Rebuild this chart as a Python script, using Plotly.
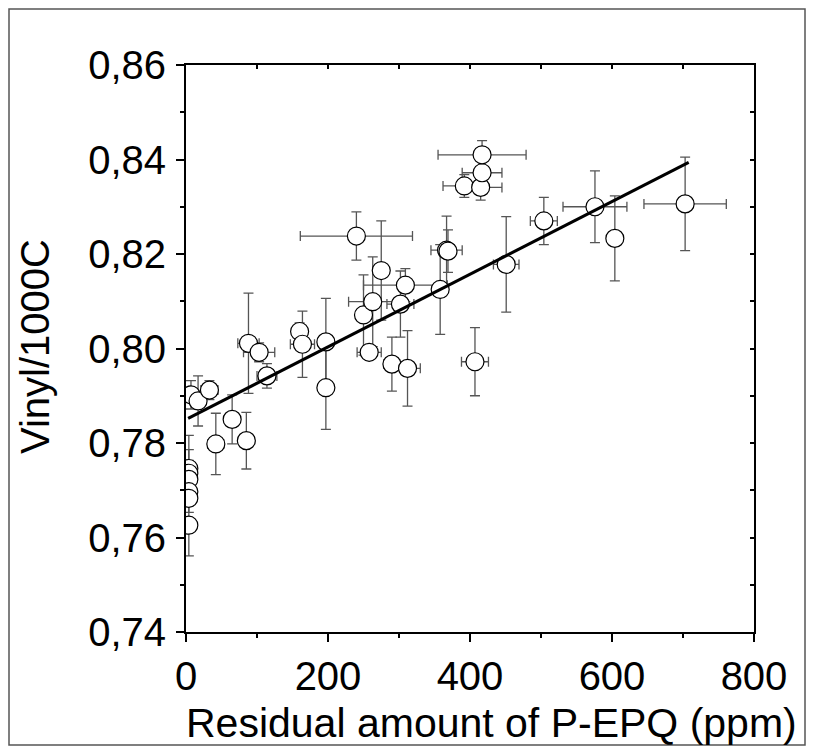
import plotly.graph_objects as go

# ---- data ----
residual_ppm = [4, 4, 4, 4, 4, 4, 7, 17, 33, 42, 65, 85, 88, 103, 114, 160, 164, 197, 197,
                240, 250, 258, 263, 275, 290, 302, 309, 312, 358, 367, 369, 392, 407, 415,
                417, 417, 451, 504, 576, 604, 703]
vinyl = [0.7746, 0.7736, 0.7723, 0.7697, 0.7683, 0.7626, 0.7902, 0.7889, 0.7912, 0.7798,
         0.7850, 0.7805, 0.8011, 0.7992, 0.7942, 0.8036, 0.8009, 0.8014, 0.7917, 0.8238,
         0.8071, 0.7992, 0.8099, 0.8165, 0.7967, 0.8094, 0.8134, 0.7958, 0.8125, 0.8208,
         0.8206, 0.8344, 0.7972, 0.8341, 0.8372, 0.8410, 0.8178, 0.8270, 0.8300, 0.8233,
         0.8306]
x_err = [1, 1, 1, 1, 1, 1, 11, 4, 12, 11, 4, 4, 15, 22, 14, 5, 17, 10, 5,
         79, 8, 17, 34, 10, 11, 19, 59, 18, 10, 22, 10, 30, 19, 30,
         28, 62, 18, 19, 45, 8, 58]
y_err = [0.007, 0.005, 0.004, 0.003, 0.003, 0.0065, 0.003, 0.0053, 0.002, 0.0065,
         0.0052, 0.006, 0.0106, 0.002, 0.0026, 0.0018, 0.007, 0.0092, 0.0088, 0.0051,
         0.0085, 0.001, 0.0095, 0.0105, 0.0057, 0.007, 0.0035, 0.008, 0.0095, 0.0072,
         0.0045, 0.0024, 0.0072, 0.0027, 0.0012, 0.003, 0.0101, 0.005, 0.0076, 0.009,
         0.0099]

fit_x = [3, 708]
fit_y = [0.7852, 0.8394]

x_ticks = [0, 200, 400, 600, 800]
y_ticks = [0.74, 0.76, 0.78, 0.80, 0.82, 0.84, 0.86]
y_tick_text = ["0,74", "0,76", "0,78", "0,80", "0,82", "0,84", "0,86"]

x_title = "Residual amount of P-EPQ (ppm)"
y_title = "Vinyl/1000C"

FONT = "Liberation Sans, Arial, sans-serif"
FS = 40

# page offset of the figure (browser body margin) = 8 px
OFF = 8
PL, PR, PT, PB = 186, 754, 65, 632          # plot area in page pixels
W, H = 814 - OFF, 753 - OFF


def px_x(p):
    return (p - PL) / (PR - PL)


def px_y(p):
    return (PB - p) / (PB - PT)


fig = go.Figure()
fig.add_trace(go.Scatter(
    x=residual_ppm, y=vinyl, mode="markers",
    marker=dict(symbol="circle", size=18, color="white",
                line=dict(color="black", width=1.2)),
    error_x=dict(type="data", array=x_err, visible=True, color="#555555",
                 thickness=1.3, width=5),
    error_y=dict(type="data", array=y_err, visible=True, color="#555555",
                 thickness=1.3, width=5),
    showlegend=False,
))
fig.add_trace(go.Scatter(
    x=fit_x, y=fit_y, mode="lines",
    line=dict(color="black", width=3), showlegend=False,
))

axis_common = dict(showgrid=False, zeroline=False, showline=True, linecolor="black",
                   linewidth=2, ticks="outside", tickcolor="black", tickwidth=1.5,
                   ticklen=8, tickfont=dict(family=FONT, size=FS, color="black"))

fig.update_xaxes(range=[0, 800], tickvals=x_ticks,
                 minor=dict(dtick=100, ticks="outside", ticklen=4, tickcolor="black", tickwidth=1.5),
                 **axis_common)
fig.update_yaxes(range=[0.74, 0.86], tickvals=y_ticks, ticktext=y_tick_text,
                 ticklabelstandoff=2,
                 minor=dict(dtick=0.01, ticks="outside", ticklen=4, tickcolor="black", tickwidth=1.5),
                 **axis_common)

# mirrored top / right axes with small inside ticks
fig.update_layout(
    xaxis2=dict(overlaying="x", side="top", range=[0, 800], dtick=100, ticks="inside",
                ticklen=4, tickwidth=1.5, tickcolor="black", showticklabels=False,
                showline=True, linecolor="black", linewidth=2, showgrid=False, zeroline=False),
    yaxis2=dict(overlaying="y", side="right", range=[0.74, 0.86], dtick=0.01, ticks="inside",
                ticklen=4, tickwidth=1.5, tickcolor="black", showticklabels=False,
                showline=True, linecolor="black", linewidth=2, showgrid=False, zeroline=False),
)
fig.add_trace(go.Scatter(x=[None], y=[None], xaxis="x2", yaxis="y2", showlegend=False,
                         hoverinfo="skip"))

# axis titles
fig.add_annotation(text=x_title, xref="paper", yref="paper",
                   x=px_x(491), y=px_y(723), xanchor="center", yanchor="middle",
                   showarrow=False, font=dict(family=FONT, size=41, color="black"))
fig.add_annotation(text=y_title, xref="paper", yref="paper", textangle=-90,
                   x=px_x(35), y=px_y(347), xanchor="center", yanchor="middle",
                   showarrow=False, font=dict(family=FONT, size=40, color="black"))

# outer frame
fig.add_shape(type="rect", xref="paper", yref="paper",
              x0=px_x(9), x1=px_x(805), y0=px_y(745), y1=px_y(9),
              line=dict(color="#555555", width=1.5), fillcolor="rgba(0,0,0,0)", layer="below")

fig.update_layout(
    width=W, height=H,
    margin=dict(l=PL - OFF, r=W - (PR - OFF), t=PT - OFF, b=H - (PB - OFF), pad=0),
    paper_bgcolor="white", plot_bgcolor="white",
    font=dict(family=FONT, size=FS, color="black"),
)

fig.write_html("out.html")
